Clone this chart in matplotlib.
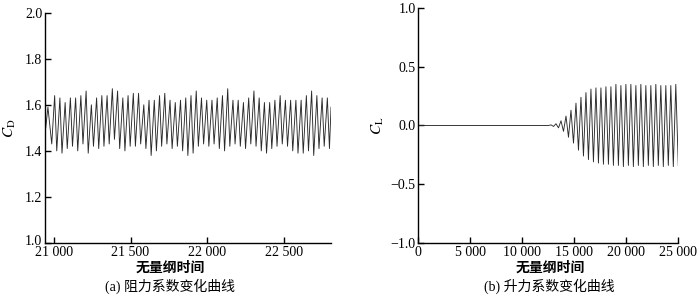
import numpy as np
import matplotlib
matplotlib.use('Agg')
import matplotlib.pyplot as plt
import matplotlib.transforms as mtransforms
from matplotlib.ticker import FuncFormatter

plt.rcParams['font.family'] = ['Liberation Serif', 'Noto Sans CJK SC']
plt.rcParams['mathtext.fontset'] = 'stix'
plt.rcParams['axes.unicode_minus'] = True

# (a) drag coefficient: lead-in points, then peaks / troughs
cd_lead_t = [20944, 20960, 20985]
cd_lead_v = [1.49, 1.59, 1.43]
cd_t_first_peak = 21004
cd_t_last_peak = 22786
cd_peaks = [1.64, 1.63, 1.61, 1.63, 1.63, 1.64, 1.66, 1.60, 1.63, 1.64,
            1.64, 1.67, 1.66, 1.63, 1.64, 1.65, 1.65, 1.60, 1.62, 1.62,
            1.64, 1.65, 1.62, 1.61, 1.62, 1.63, 1.64, 1.66, 1.63, 1.62,
            1.62, 1.63, 1.64, 1.67, 1.62, 1.62, 1.61, 1.63, 1.66, 1.63,
            1.61, 1.61, 1.62, 1.64, 1.62, 1.62, 1.62, 1.62, 1.64, 1.66,
            1.64, 1.63, 1.63]
cd_troughs = [1.40, 1.39, 1.41, 1.42, 1.40, 1.43, 1.39, 1.42, 1.41, 1.42,
              1.43, 1.45, 1.41, 1.40, 1.42, 1.42, 1.43, 1.41, 1.38, 1.40,
              1.42, 1.43, 1.41, 1.42, 1.40, 1.38, 1.39, 1.42, 1.43, 1.42,
              1.43, 1.41, 1.40, 1.42, 1.43, 1.42, 1.41, 1.43, 1.42, 1.40,
              1.39, 1.41, 1.42, 1.43, 1.42, 1.40, 1.39, 1.39, 1.40, 1.38,
              1.41, 1.42, 1.41]
cd_end_t, cd_end_v = 22810, 1.59

# (b) lift coefficient: flat start, then growing oscillation
cl_flat_t = [0, 12500]
cl_peak_t = [12760, 13240, 13720, 14200, 14680, 15160, 15640, 16120, 16600,
             17080, 17560, 18040, 18520, 19000, 19480, 19960, 20440, 20920,
             21400, 21880, 22360, 22840, 23320, 23800, 24280, 24760]
cl_peaks = [0.005, 0.015, 0.04, 0.08, 0.13, 0.19, 0.24, 0.28, 0.31,
            0.32, 0.32, 0.33, 0.33, 0.35, 0.34, 0.35, 0.35, 0.34,
            0.35, 0.34, 0.34, 0.35, 0.34, 0.34, 0.34, 0.35]
cl_troughs = [-0.008, -0.02, -0.05, -0.10, -0.15, -0.21, -0.26, -0.29, -0.31,
              -0.32, -0.33, -0.33, -0.34, -0.34, -0.35, -0.34, -0.35, -0.34,
              -0.35, -0.34, -0.35, -0.34, -0.35, -0.34, -0.35, -0.34]

# build the CD trace
n = len(cd_peaks)
tp = np.linspace(cd_t_first_peak, cd_t_last_peak, n)
per = tp[1] - tp[0]
cd_t = list(cd_lead_t)
cd_v = list(cd_lead_v)
for i in range(n):
    cd_t += [tp[i], tp[i] + 0.4 * per]
    cd_v += [cd_peaks[i], cd_troughs[i]]
cd_t.append(cd_end_t)
cd_v.append(cd_end_v)

# build the CL trace
half = (cl_peak_t[1] - cl_peak_t[0]) / 2
cl_t = list(cl_flat_t)
cl_v = [0.0, 0.0]
for t, p, q in zip(cl_peak_t, cl_peaks, cl_troughs):
    cl_t += [t, t + half]
    cl_v += [p, q]

thousands = FuncFormatter(lambda x, pos: '0' if x == 0 else f'{int(x):,}'.replace(',', ' '))

fig = plt.figure(figsize=(7, 2.98), dpi=100)
ax1 = fig.add_axes([0.0643, 0.1846, 0.4086, 0.7728])
ax2 = fig.add_axes([0.5976, 0.1846, 0.3714, 0.7886])

for ax in (ax1, ax2):
    ax.spines['top'].set_visible(False)
    ax.spines['right'].set_visible(False)
    ax.spines['left'].set_linewidth(1.0)
    ax.spines['bottom'].set_linewidth(1.0)
    ax.tick_params(direction='in', length=4, width=1.0, labelsize=10, pad=2)
    ax.tick_params(axis='x', pad=2.5)
    ax.xaxis.set_major_formatter(thousands)

ax1.plot(cd_t, cd_v, color='#2a2a2a', lw=0.65)
ax1.set_xlim(20941, 22810)
ax1.set_ylim(1.0, 2.0)
ax1.set_xticks([21000, 21500, 22000, 22500])
ax1.set_yticks([1.0, 1.2, 1.4, 1.6, 1.8, 2.0])
ax1.yaxis.set_major_formatter(FuncFormatter(lambda y, pos: f'{y:.1f}'))
ax1.set_ylabel(r'$C_{\mathrm{D}}$', fontsize=11, labelpad=5)
ax1.set_xlabel('无量纲时间', fontsize=10, fontweight='bold')

ax2.plot(cl_t, cl_v, color='#2a2a2a', lw=0.65)
ax2.set_xlim(0, 25000)
ax2.set_ylim(-1.0, 1.0)
ax2.set_xticks([0, 5000, 10000, 15000, 20000, 25000])
ax2.set_yticks([-1.0, -0.5, 0.0, 0.5, 1.0])
ax2.yaxis.set_major_formatter(FuncFormatter(lambda y, pos: f'{y:.1f}'.replace('-', '\u2212')))
ax2.set_ylabel(r'$C_{\mathrm{L}}$', fontsize=11, labelpad=3)
ax2.set_xlabel('无量纲时间', fontsize=10, fontweight='bold')

# x labels placed at fixed figure heights, like the reference
ax1.xaxis.set_label_coords(170 / 700, 1 - 261 / 298, transform=fig.transFigure)
ax2.xaxis.set_label_coords(550 / 700, 1 - 261 / 298, transform=fig.transFigure)
for ax in (ax1, ax2):
    ax.xaxis.label.set_va('top')

# nudge the bottom "1.0" label up so it clears "21 000"
lbl = ax1.yaxis.get_major_ticks()[0].label1
lbl.set_transform(lbl.get_transform() + mtransforms.ScaledTranslation(0, 2.5 / 72, fig.dpi_scale_trans))

fig.text(170 / 700, 1 - 279 / 298, '(a) 阻力系数变化曲线', ha='center', va='top', fontsize=10)
fig.text(549 / 700, 1 - 279 / 298, '(b) 升力系数变化曲线', ha='center', va='top', fontsize=10)

fig.savefig('out.png', dpi=100)
